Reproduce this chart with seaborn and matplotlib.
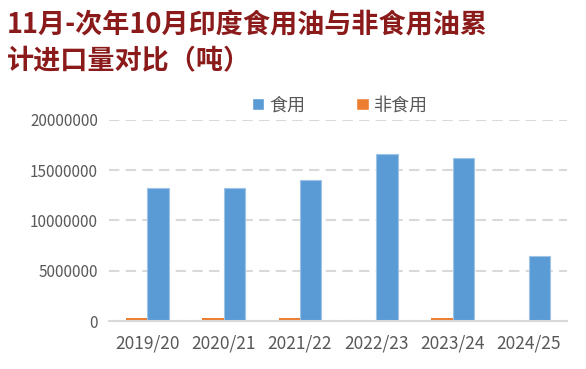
import matplotlib
matplotlib.use("Agg")
import matplotlib.pyplot as plt
import seaborn as sns
import pandas as pd
from matplotlib.patches import Patch

years = ["2019/20", "2020/21", "2021/22", "2022/23", "2023/24", "2024/25"]
edible = [13270000, 13250000, 14000000, 16600000, 16200000, 6470000]
non_edible = [260000, 270000, 270000, 30000, 260000, 30000]
series_names = ["非食用", "食用"]
yticks = [0, 5000000, 10000000, 15000000, 20000000]

sns.set_theme(style="white")
plt.rcParams['font.family'] = ['Noto Sans CJK SC', 'DejaVu Sans']

df = pd.DataFrame({
    "year": years * 2,
    "series": [series_names[0]] * len(years) + [series_names[1]] * len(years),
    "value": non_edible + edible,
})

fig = plt.figure(figsize=(5.86, 3.69), dpi=100)
ax = fig.add_axes([0.186, 0.130, 0.782, 0.545])

palette = {"非食用": "#ED7D31", "食用": "#5B9BD5"}
sns.barplot(data=df, x="year", y="value", hue="series", hue_order=series_names,
            palette=palette, width=0.56, ax=ax, saturation=1, legend=False,
            linewidth=0)
# light edge only on the blue bars
for cont, name in zip(ax.containers, series_names):
    if name == "食用":
        for p in cont.patches:
            p.set_edgecolor("#9DC3E6")
            p.set_linewidth(0.8)

ax.set_ylim(0, 20000000)
ax.set_yticks(yticks)
ax.set_yticklabels([str(v) for v in yticks], color="#595959", fontsize=11)
ax.tick_params(axis="x", colors="#595959", labelsize=12.5, length=0, pad=10)
ax.tick_params(axis="y", length=0, pad=8)
ax.set_xlabel("")
ax.set_ylabel("")
ax.yaxis.grid(True, linestyle=(0, (5, 3)), color="#D9D9D9", linewidth=1.5)
ax.set_axisbelow(True)
for s in ["top", "right", "left"]:
    ax.spines[s].set_visible(False)
ax.spines["bottom"].set_color("#D9D9D9")
ax.spines["bottom"].set_linewidth(1.5)
ax.set_xlim(-0.5, 5.5)

handles = [Patch(facecolor=palette["食用"]), Patch(facecolor=palette["非食用"])]
fig.legend(handles, ["食用", "非食用"], loc="center", bbox_to_anchor=(0.580, 0.715),
           ncol=2, frameon=False, fontsize=13, handlelength=0.7, handleheight=0.7,
           handletextpad=0.3, columnspacing=2.8, labelcolor="#595959")

fig.text(0.012, 0.932, "11月-次年10月印度食用油与非食用油累", fontsize=19.5, fontweight="bold",
         color="#8B1A1A", va="center", ha="left")
fig.text(0.012, 0.835, "计进口量对比（吨）", fontsize=19.5, fontweight="bold",
         color="#8B1A1A", va="center", ha="left")

fig.savefig("out.png", dpi=100)
